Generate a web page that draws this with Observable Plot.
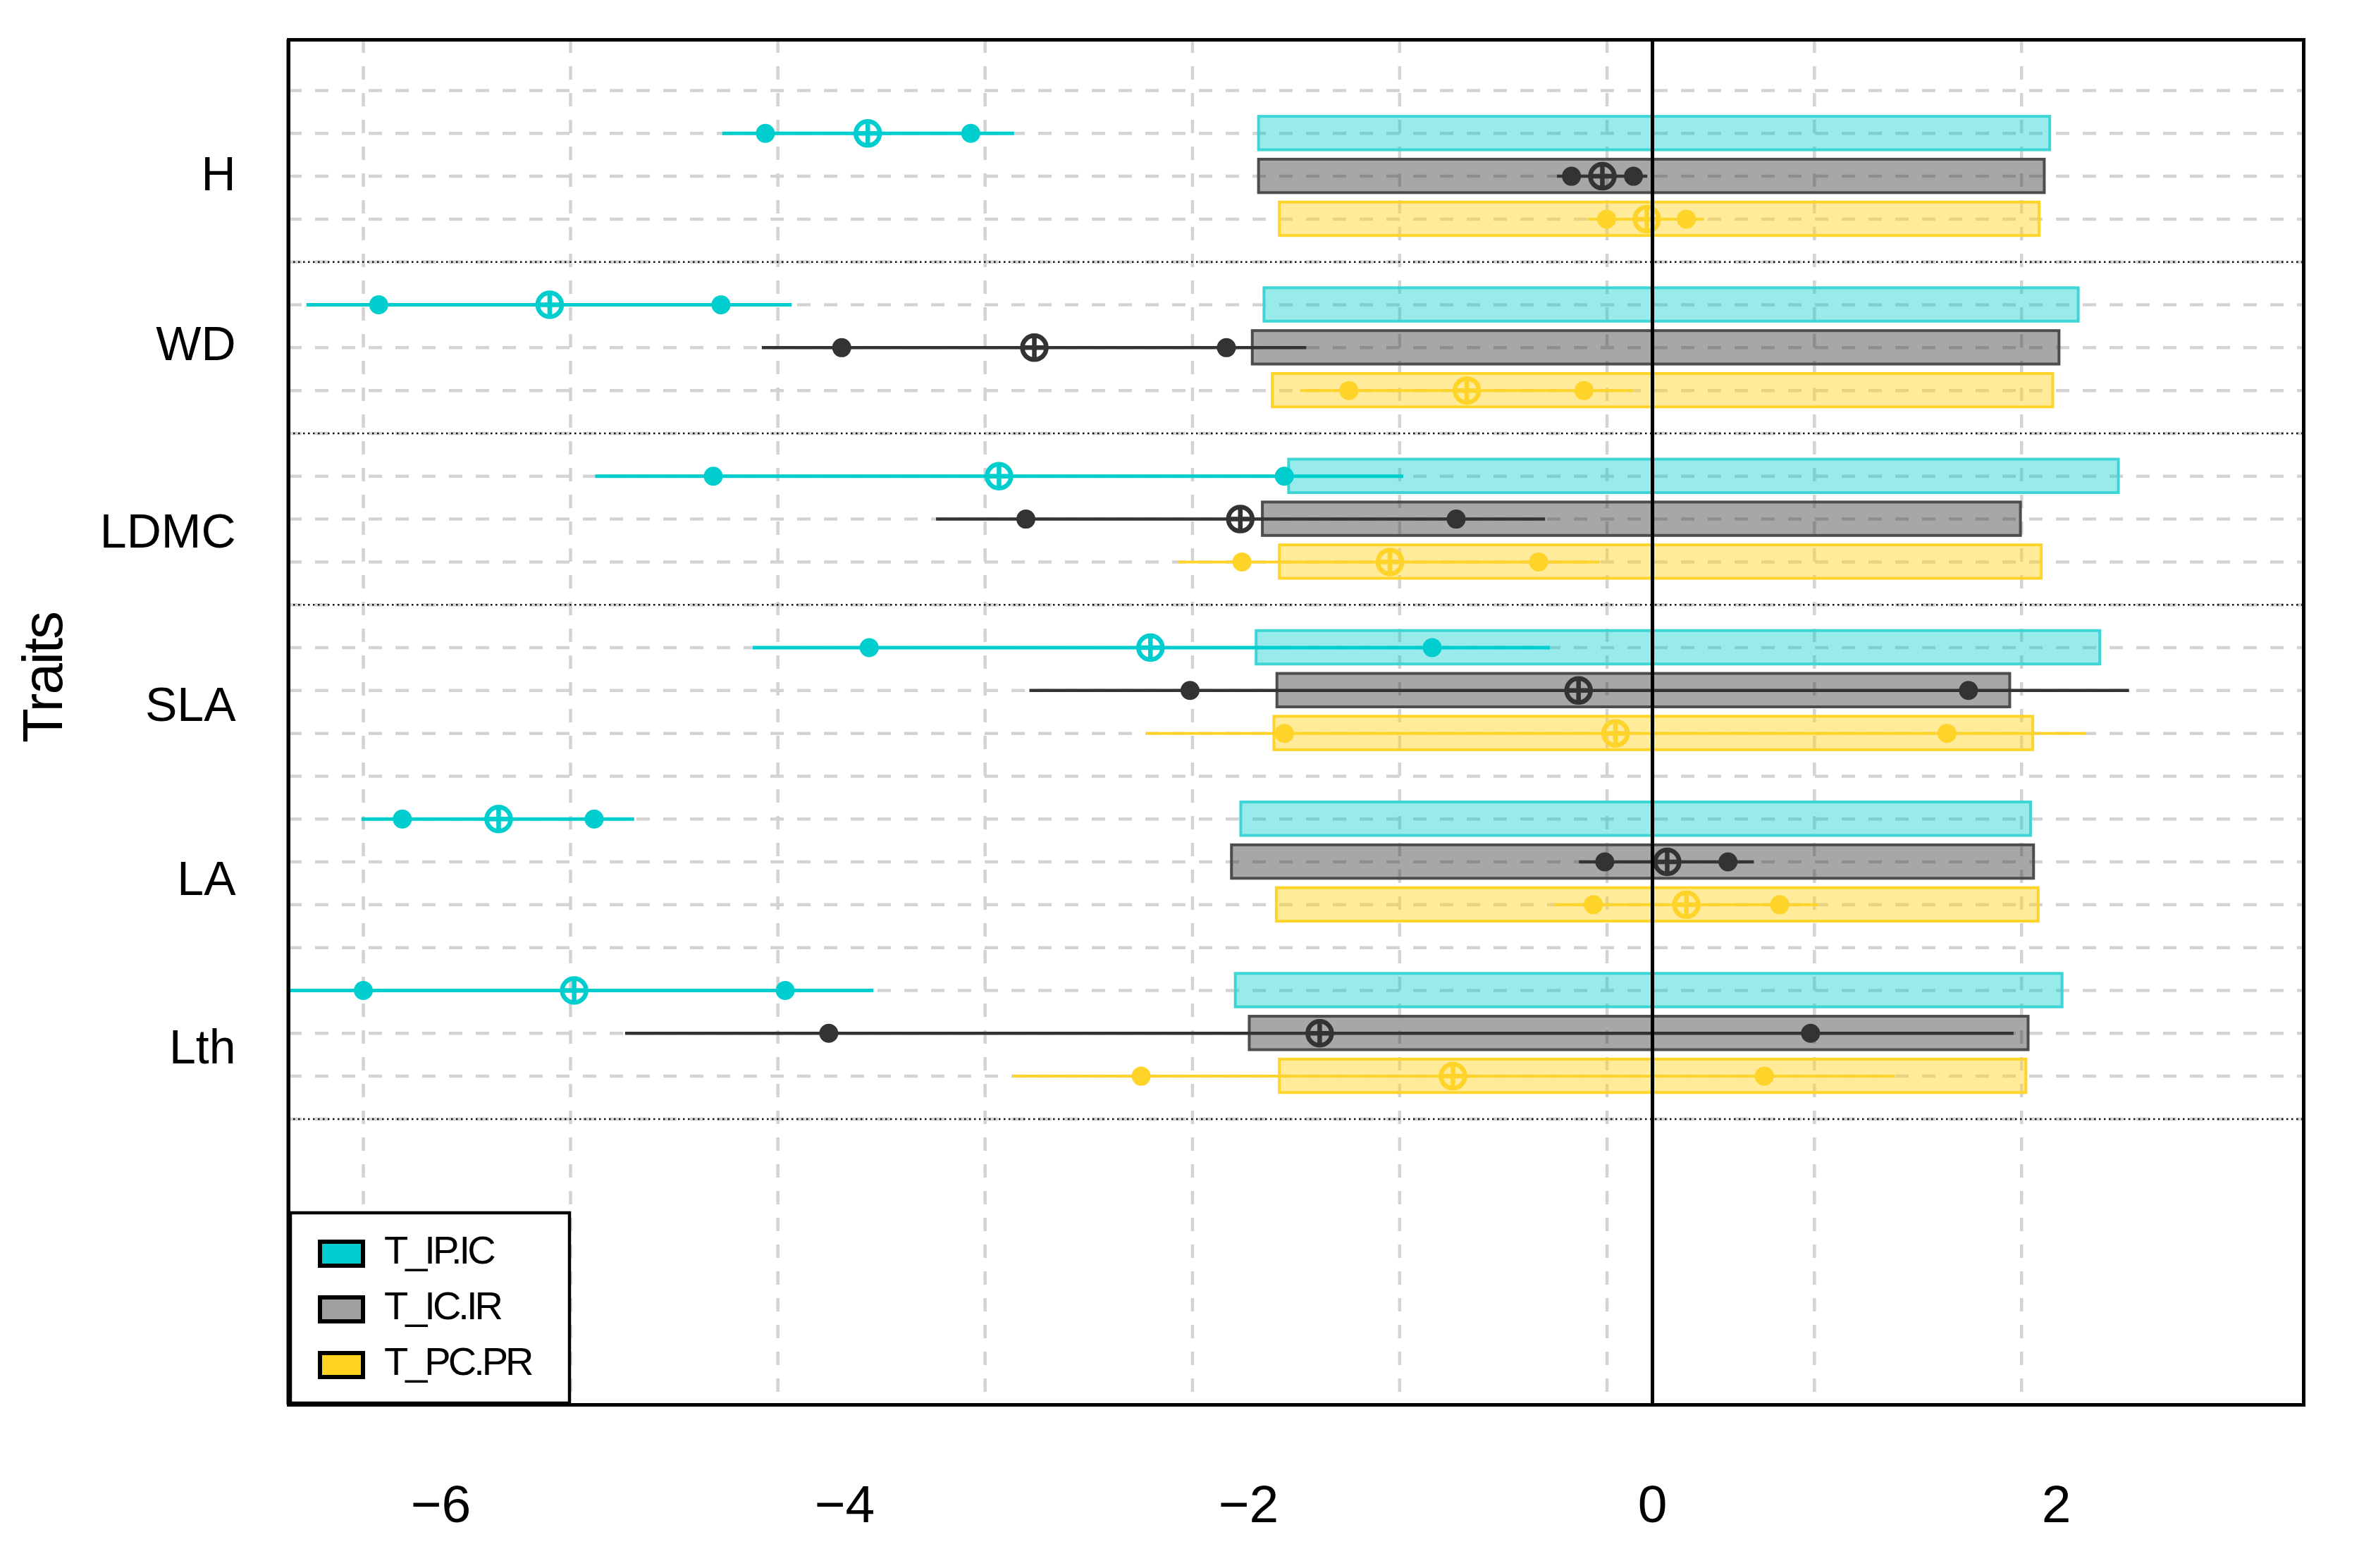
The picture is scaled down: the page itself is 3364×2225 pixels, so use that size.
<!DOCTYPE html>
<html><head><meta charset="utf-8">
<script src="https://cdn.jsdelivr.net/npm/d3@7"></script>
<script src="https://cdn.jsdelivr.net/npm/@observablehq/plot@0.6"></script>
<style>
html,body{margin:0;padding:0;background:#fff;}
#chart{width:3364px;height:2225px;}
</style></head><body><div id="chart"></div>
<script>
// ---- data ----
const traits = ["H", "WD", "LDMC", "SLA", "LA", "Lth"];
const traitTickRows = [1.97, 5.93, 10.30, 14.36, 18.41, 22.35];
const groups = ["T_IP.IC", "T_IC.IR", "T_PC.PR"];
const xTicks = [-6, -4, -2, 0, 2];
const gridX = [-6.384, -5.358, -4.331, -3.305, -2.278, -1.252, -0.225, 0.802, 1.828];
const separatorRows = [4, 8, 12, 24];

// T_IP.IC
const ipicBarLow  = [-1.949, -1.922, -1.800, -1.961, -2.037, -2.064];
const ipicBarHigh = [ 1.969,  2.110,  2.309,  2.217,  1.874,  2.030];
const ipicLo  = [-4.605, -6.664, -5.234, -4.454, -6.392, -6.824];
const ipicQ1  = [-4.393, -6.308, -4.651, -3.879, -6.191, -6.384];
const ipicMid = [-3.886, -5.461, -3.236, -2.486, -5.714, -5.340];
const ipicQ2  = [-3.376, -4.613, -1.823, -1.091, -5.241, -4.295];
const ipicHi  = [-3.160, -4.261, -1.232, -0.507, -5.041, -3.856];

// T_IC.IR
const icirBarLow  = [-1.949, -1.980, -1.930, -1.858, -2.083, -1.995];
const icirBarHigh = [ 1.942,  2.015,  1.824,  1.771,  1.889,  1.862];
const icirLo  = [-0.471, -4.409, -3.546, -3.084, -0.362, -5.086];
const icirQ1  = [-0.401, -4.015, -3.103, -2.290, -0.236, -4.079];
const icirMid = [-0.248, -3.061, -2.041, -0.366,  0.073, -1.648];
const icirQ2  = [-0.094, -2.110, -0.972,  1.565,  0.374,  0.783];
const icirHi  = [-0.024, -1.713, -0.530,  2.362,  0.504,  1.790];

// T_PC.PR
const pcprBarLow  = [-1.846, -1.881, -1.846, -1.873, -1.861, -1.846];
const pcprBarHigh = [ 1.916,  1.984,  1.927,  1.885,  1.912,  1.851];
const pcprLo  = [-0.318, -1.743, -2.346, -2.505, -0.484, -3.167];
const pcprQ1  = [-0.227, -1.503, -2.033, -1.823, -0.293, -2.532];
const pcprMid = [-0.028, -0.919, -1.300, -0.183,  0.168, -0.988];
const pcprQ2  = [ 0.168, -0.339, -0.564,  1.458,  0.630,  0.554];
const pcprHi  = [ 0.258, -0.095, -0.259,  2.148,  0.821,  1.202];

// ---- styles ----
const styles = {
  "T_IP.IC": {line: "#00CDCD", fill: "#00CDCD", fillOpacity: 0.40, stroke: "#3DD5D5", swatch: "#00CDCD", lw: 5},
  "T_IC.IR": {line: "#333333", fill: "#333333", fillOpacity: 0.43, stroke: "#4D4D4D", swatch: "#A0A0A0", lw: 4.5},
  "T_PC.PR": {line: "#FFD42A", fill: "#FFD320", fillOpacity: 0.45, stroke: "#FFD42A", swatch: "#FFD320", lw: 4}
};

const series = [
  {group: groups[0], barLow: ipicBarLow, barHigh: ipicBarHigh, lo: ipicLo, q1: ipicQ1, mid: ipicMid, q2: ipicQ2, hi: ipicHi},
  {group: groups[1], barLow: icirBarLow, barHigh: icirBarHigh, lo: icirLo, q1: icirQ1, mid: icirMid, q2: icirQ2, hi: icirHi},
  {group: groups[2], barLow: pcprBarLow, barHigh: pcprBarHigh, lo: pcprLo, q1: pcprQ1, mid: pcprMid, q2: pcprQ2, hi: pcprHi}
];

const rows = traits.flatMap((t, i) => series.map((s, j) => ({
  trait: t, group: s.group, row: i * 4 + j + 1,
  barLow: s.barLow[i], barHigh: s.barHigh[i],
  lo: s.lo[i], q1: s.q1[i], mid: s.mid[i], q2: s.q2[i], hi: s.hi[i]
})));
const traitRows = traits.map((t, i) => ({trait: t, row: traitTickRows[i]}));
const gridRows = d3.range(0, 25);

const circledPlus = {
  draw(ctx, size) {
    const r = Math.sqrt(size / Math.PI);
    ctx.moveTo(r, 0);
    ctx.arc(0, 0, r, 0, 2 * Math.PI);
    ctx.moveTo(-r, 0); ctx.lineTo(r, 0);
    ctx.moveTo(0, -r); ctx.lineTo(0, r);
  }
};

const half = 0.39;
const groupMarks = groups.map(g => {
  const st = styles[g];
  const d = rows.filter(r => r.group === g);
  return Plot.rect(d, {x1: "barLow", x2: "barHigh", y1: r => r.row - half, y2: r => r.row + half,
      fill: st.fill, fillOpacity: st.fillOpacity, stroke: st.stroke, strokeWidth: 4});
});
const intervalMarks = groups.flatMap(g => {
  const st = styles[g];
  const d = rows.filter(r => r.group === g);
  return [
    Plot.ruleY(d, {y: "row", x1: "lo", x2: "hi", stroke: st.line, strokeWidth: st.lw, clip: true}),
    Plot.dot(d, {x: "q1", y: "row", r: 13.5, fill: st.line, stroke: "none"}),
    Plot.dot(d, {x: "q2", y: "row", r: 13.5, fill: st.line, stroke: "none"}),
    Plot.dot(d, {x: "mid", y: "row", r: 17, symbol: circledPlus, fill: "none", stroke: st.line, strokeWidth: 6.5})
  ];
});

const fmt = v => v < 0 ? "\u2212" + Math.abs(v) : String(v);

const plot = Plot.plot({
  width: 3364,
  height: 2225,
  marginLeft: 409,
  marginRight: 96,
  marginTop: 56,
  marginBottom: 232,
  style: {fontFamily: "'Liberation Sans', Arial, sans-serif", background: "white", color: "black"},
  x: {domain: [-6.754, 3.225]},
  y: {domain: [30.67, -1.184], axis: null},
  marks: [
    Plot.ruleY(gridRows, {y: d => d, stroke: "#D3D3D3", strokeWidth: 4.5, strokeDasharray: "19,19"}),
    Plot.ruleX(gridX, {x: d => d, stroke: "#D3D3D3", strokeWidth: 4.5, strokeDasharray: "19,19"}),
    Plot.ruleY(separatorRows, {y: d => d, stroke: "#111", strokeWidth: 2.5, strokeDasharray: "2.5,4.5"}),
    ...groupMarks,
    ...intervalMarks,
    Plot.ruleX([0], {stroke: "black", strokeWidth: 5}),
    Plot.frame({stroke: "black", strokeWidth: 5}),
    Plot.text(traitRows, {y: "row", text: "trait", frameAnchor: "left", dx: -75, textAnchor: "end",
      fontSize: 68, fill: "black"}),
    Plot.text([{label: "Traits", row: 13.7}], {y: "row", text: "label", frameAnchor: "left", dx: -347, rotate: -90,
      textAnchor: "middle", fontSize: 80, fill: "black"}),
    Plot.axisX({ticks: xTicks, tickSize: 0, tickPadding: 113, fontSize: 75, tickFormat: fmt, label: null})
  ]
});

document.getElementById("chart").appendChild(plot);

// letter spacing for the rotated axis title
d3.select(plot).selectAll("text").filter(function() { return this.textContent === "Traits"; })
  .attr("letter-spacing", -2);

// legend (inside the frame, bottom-left)
const svg = d3.select(plot);
const lg = svg.append("g").attr("font-family", "'Liberation Sans', Arial, sans-serif").attr("text-anchor", "start");
lg.append("rect").attr("x", 412).attr("y", 1721).attr("width", 396).attr("height", 270)
  .attr("fill", "white").attr("stroke", "black").attr("stroke-width", 4.5);
groups.forEach((g, i) => {
  const cy = 1779 + i * 79;
  lg.append("rect").attr("x", 454).attr("y", cy - 17).attr("width", 61).attr("height", 34)
    .attr("fill", styles[g].swatch).attr("stroke", "black").attr("stroke-width", 6);
  lg.append("text").attr("x", 545).attr("y", cy + 13.5).attr("font-size", 56)
    .attr("text-anchor", "start").attr("letter-spacing", -4).attr("fill", "black").text(g);
});
svg.append("line").attr("x1", 409).attr("x2", 409).attr("y1", 56).attr("y2", 1993).attr("stroke", "black").attr("stroke-width", 5);
</script>
</body></html>
